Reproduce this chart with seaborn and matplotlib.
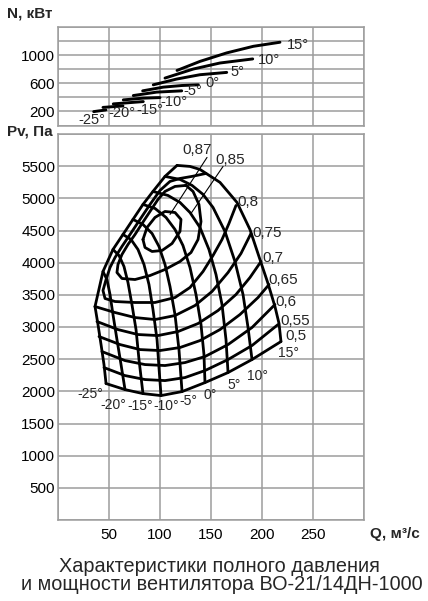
import numpy as np
import pandas as pd
import matplotlib
matplotlib.use("Agg")
import matplotlib.pyplot as plt
import seaborn as sns

# ---------------- data ----------------
angle_labels = ["-25°", "-20°", "-15°", "-10°", "-5°", "0°", "5°", "10°", "15°"]

# pressure curves Pv(Q) for each blade angle
bq_m25 = [36.3, 39.2, 42.2, 45.1, 47.1]
bp_m25 = [3318, 3038, 2727, 2416, 2121]
bq_m20 = [44.1, 48.0, 51.0, 53.9, 57.8, 61.8, 65.7]
bp_m20 = [3863, 3738, 3505, 3194, 2805, 2416, 2027]
bq_m15 = [53.9, 59.8, 64.7, 68.6, 72.5, 76.5, 79.4, 83.3]
bp_m15 = [4205, 4112, 3940, 3692, 3349, 2960, 2494, 1965]
bq_m10 = [63.7, 71.6, 78.4, 84.3, 89.2, 93.1, 97.1, 99.0, 101.0]
bp_m10 = [4438, 4360, 4205, 3972, 3660, 3272, 2805, 2369, 1934]
bq_m05 = [73.5, 83.3, 92.2, 99.0, 104.9, 109.8, 114.7, 118.6, 121.6]
bp_m05 = [4672, 4594, 4454, 4252, 3972, 3629, 3194, 2649, 1996]
bq_p00 = [83.3, 95.1, 105.9, 114.7, 122.5, 129.4, 135.3, 140.2, 143.1, 144.1]
bp_p00 = [4905, 4843, 4703, 4516, 4267, 3925, 3505, 3038, 2572, 2136]
bq_p05 = [93.1, 107.8, 119.6, 129.4, 139.2, 148.0, 154.9, 160.8, 164.7, 166.7]
bp_p05 = [5107, 5045, 4936, 4780, 4547, 4205, 3816, 3349, 2805, 2292]
bq_p10 = [104.9, 119.6, 131.4, 142.2, 152.0, 163.7, 173.5, 181.4, 186.3, 190.2]
bp_p10 = [5341, 5294, 5201, 5061, 4858, 4485, 4018, 3505, 2992, 2494]
bq_p15 = [116.7, 129.4, 139.2, 158.8, 175.5, 188.2, 198.0, 205.9, 212.7, 216.7, 218.6]
bp_p15 = [5512, 5496, 5449, 5248, 4936, 4516, 4049, 3676, 3318, 3054, 2774]

# stall (surge) boundary
stall_q = [36.3, 44.1, 53.9, 63.7, 73.5, 83.3, 93.1, 104.9, 116.7]
stall_p = [3318, 3863, 4205, 4438, 4672, 4905, 5107, 5341, 5512]

# efficiency contours
eq_50 = [47.1, 65.7, 83.3, 101.0, 121.6, 144.1, 166.7, 190.2, 218.6]
ep_50 = [2121, 2027, 1965, 1934, 1996, 2136, 2292, 2494, 2774]
eq_55 = [45.1, 65.7, 85.3, 104.9, 124.5, 144.1, 166.7, 190.2, 215.7]
ep_55 = [2369, 2245, 2183, 2167, 2214, 2323, 2494, 2712, 3038]
eq_60 = [43.1, 65.7, 85.3, 104.9, 124.5, 144.1, 166.7, 190.2, 212.7]
ep_60 = [2618, 2478, 2416, 2401, 2447, 2541, 2727, 2992, 3349]
eq_65 = [40.2, 60.8, 80.4, 100.0, 119.6, 139.2, 158.8, 178.4, 196.1, 206.9]
ep_65 = [2852, 2727, 2649, 2634, 2681, 2789, 2960, 3194, 3458, 3660]
eq_70 = [38.2, 58.8, 78.4, 98.0, 117.6, 137.3, 156.9, 174.5, 188.2, 199.0]
ep_70 = [3085, 2960, 2883, 2867, 2929, 3054, 3256, 3505, 3769, 4018]
eq_75 = [36.3, 55.9, 75.5, 95.1, 114.7, 134.3, 151.0, 166.7, 179.4, 189.2]
ep_75 = [3318, 3225, 3147, 3116, 3178, 3334, 3552, 3847, 4143, 4454]
eq_80 = [145.1, 131.4, 119.6, 109.8, 100.0, 90.2, 80.4, 70.6, 62.7, 55.9, 51.0, 47.1, 44.1,
         46.1, 55.9, 75.5, 95.1, 114.7, 129.4, 142.2, 152.0, 160.8, 167.6, 174.5]
ep_80 = [5387, 5341, 5309, 5263, 5123, 4905, 4672, 4438, 4252, 4080, 3925, 3738, 3567,
         3443, 3396, 3381, 3381, 3458, 3614, 3863, 4112, 4360, 4609, 4889]
eq_85 = [125.5, 114.7, 104.9, 98.0, 90.2, 82.4, 75.5, 68.6, 62.7, 58.8, 57.8, 62.7, 75.5,
         90.2, 104.9, 119.6, 130.4, 137.3, 140.2, 138.2, 132.4, 125.5]
ep_85 = [5201, 5185, 5107, 4983, 4796, 4609, 4438, 4283, 4127, 3972, 3847, 3754, 3738,
         3800, 3894, 4018, 4158, 4360, 4640, 4905, 5107, 5201]
eq_87 = [83.3, 87.3, 95.1, 104.9, 114.7, 120.6, 119.6, 111.8, 102.0, 92.2, 85.3, 83.3]
ep_87 = [4360, 4547, 4703, 4796, 4780, 4672, 4485, 4298, 4189, 4174, 4236, 4360]

eff_labels = ["0,87", "0,85", "0,8", "0,75", "0,7", "0,65", "0,6", "0,55", "0,5"]
eff_label_q = [121.6, 153.9, 175.5, 190.2, 200.0, 205.9, 212.7, 217.6, 222.5]
eff_label_p = [5745, 5589, 4936, 4454, 4065, 3723, 3396, 3101, 2867]
leader_q = [[146.1, 109.8], [161.8, 130.4]]
leader_p = [[5636, 4749], [5496, 4765]]

angle_label_q = [18.6, 41.2, 67.6, 93.1, 118.6, 142.2, 165.7, 185.3, 215.7]
angle_label_p = [1965, 1794, 1778, 1778, 1856, 1950, 2105, 2245, 2603]

# power curves N(Q)
nq_m25 = [35.0, 47.0]
nn_m25 = [198, 222]
nq_m20 = [44.1, 63.7]
nn_m20 = [258, 279]
nq_m15 = [54.2, 83.6]
nn_m15 = [308, 341]
nq_m10 = [64.0, 83.6, 100.0]
nn_m10 = [365, 390, 398]
nq_m05 = [73.8, 96.8, 121.3]
nn_m05 = [427, 476, 494]
nq_p00 = [83.0, 103.2, 121.3, 137.6]
nn_p00 = [494, 547, 570, 580]
nq_p05 = [93.4, 116.3, 139.2, 165.4]
nn_p05 = [580, 662, 724, 757]
nq_p10 = [104.9, 132.6, 158.8, 190.9]
nn_p10 = [676, 805, 891, 949]
nq_p15 = [116.7, 139.2, 165.4, 191.5, 217.6]
nn_p15 = [785, 914, 1035, 1129, 1187]

n_label_q = [19.6, 49.0, 76.5, 100.0, 123.0, 144.1, 168.6, 196.0, 224.5]
n_label_n = [79, 179, 215, 330, 487, 609, 767, 939, 1154]

x_ticks = [0, 50, 100, 150, 200, 250, 300]
x_tick_labels = ["", "50", "100", "150", "200", "250", ""]
p_ticks = [0, 500, 1000, 1500, 2000, 2500, 3000, 3500, 4000, 4500, 5000, 5500, 6000]
p_tick_labels = ["", "500", "1000", "1500", "2000", "2500", "3000", "3500", "4000", "4500", "5000", "5500", ""]
n_ticks = [0, 200, 400, 600, 800, 1000, 1200, 1400]
n_tick_labels = ["", "200", "", "600", "", "1000", "", ""]

# ---------------- figure ----------------
sns.set_theme(style="white")
plt.rcParams['font.family'] = ['Liberation Sans', 'DejaVu Sans']

W, H = 428, 601
fig = plt.figure(figsize=(W / 100, H / 100), dpi=100)
ax_n = fig.add_axes([58 / W, 1 - 125.5 / H, 306 / W, 98.2 / H])
ax_p = fig.add_axes([58 / W, 1 - 520 / H, 306 / W, 386 / H])

GRID = "#9c9c9c"
LW = 2.0


def frame(ax, yt, ytl, xtl):
    ax.set_xlim(0, 300)
    ax.set_ylim(yt[0], yt[-1])
    ax.set_xticks(x_ticks)
    ax.set_xticklabels(xtl)
    ax.set_yticks(yt)
    ax.set_yticklabels(ytl)
    ax.grid(True, color=GRID, lw=1.1)
    ax.set_axisbelow(True)
    for s in ax.spines.values():
        s.set_color(GRID)
        s.set_linewidth(1.1)
    ax.tick_params(length=0, labelsize=11, colors="black")
    ax.tick_params(axis="y", pad=2)
    ax.tick_params(axis="x", pad=6)
    ax.set_xlabel("")
    ax.set_ylabel("")


def curve(ax, q, v, lw=LW):
    sns.lineplot(x=q, y=v, sort=False, estimator=None, color="black",
                 lw=lw, ax=ax, legend=False)


blade_q = [bq_m25, bq_m20, bq_m15, bq_m10, bq_m05, bq_p00, bq_p05, bq_p10, bq_p15]
blade_p = [bp_m25, bp_m20, bp_m15, bp_m10, bp_m05, bp_p00, bp_p05, bp_p10, bp_p15]
for q, p in zip(blade_q, blade_p):
    curve(ax_p, q, p)
curve(ax_p, stall_q, stall_p)

eff_q = [eq_50, eq_55, eq_60, eq_65, eq_70, eq_75, eq_80, eq_85, eq_87]
eff_p = [ep_50, ep_55, ep_60, ep_65, ep_70, ep_75, ep_80, ep_85, ep_87]
for q, p in zip(eff_q, eff_p):
    curve(ax_p, q, p)

for q, p in zip(leader_q, leader_p):
    curve(ax_p, q, p, lw=0.8)

for t, q, p in zip(eff_labels, eff_label_q, eff_label_p):
    ax_p.text(q, p, t, fontsize=11, ha="left", va="center")
for t, q, p in zip(angle_labels, angle_label_q, angle_label_p):
    ax_p.text(q, p, t, fontsize=10, ha="left", va="center")

power_q = [nq_m25, nq_m20, nq_m15, nq_m10, nq_m05, nq_p00, nq_p05, nq_p10, nq_p15]
power_n = [nn_m25, nn_m20, nn_m15, nn_m10, nn_m05, nn_p00, nn_p05, nn_p10, nn_p15]
for q, n in zip(power_q, power_n):
    curve(ax_n, q, n, lw=2.1)
for t, q, n in zip(angle_labels, n_label_q, n_label_n):
    ax_n.text(q, n, t, fontsize=10.5, ha="left", va="center")

frame(ax_p, p_ticks, p_tick_labels, x_tick_labels)
frame(ax_n, n_ticks, n_tick_labels, [""] * len(x_ticks))

fig.text(7 / W, 1 - 14 / H, "N, кВт", fontsize=11, fontweight="bold", va="center", ha="left")
fig.text(7 / W, 1 - 131 / H, "Pv, Па", fontsize=11, fontweight="bold", va="center", ha="left")
fig.text(370 / W, 1 - 534 / H, "Q, м³/с", fontsize=11, fontweight="bold", va="center", ha="left")
fig.text(219 / W, 1 - 566 / H, "Характеристики полного давления", fontsize=14.3, ha="center", va="center")
fig.text(222 / W, 1 - 585 / H, "и мощности вентилятора ВО-21/14ДН-1000", fontsize=14.3, ha="center", va="center")

fig.savefig("out.png", dpi=100)
